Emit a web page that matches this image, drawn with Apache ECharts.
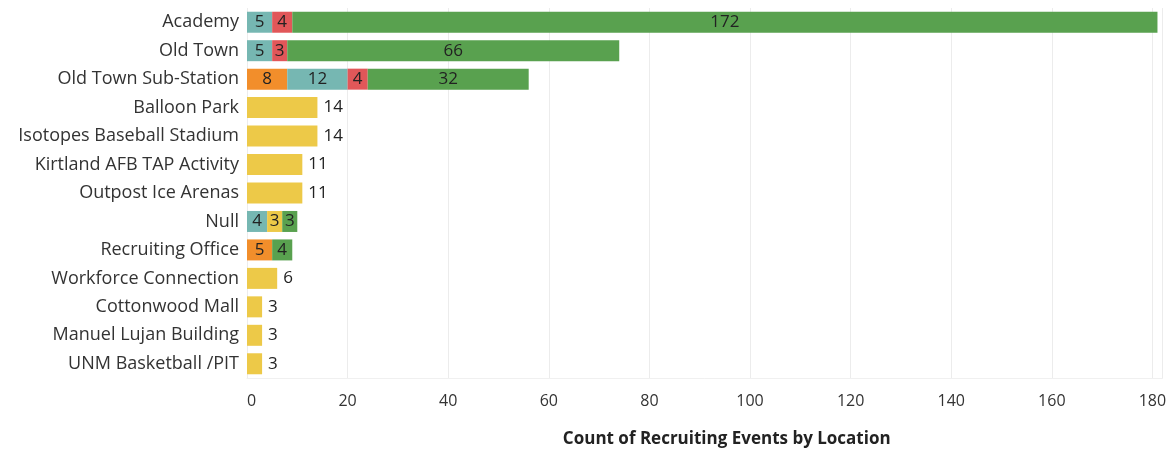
<!DOCTYPE html>
<html>
<head>
<meta charset="utf-8">
<script src="https://cdn.jsdelivr.net/npm/echarts@6/dist/echarts.min.js"></script>
<style>
  html, body { margin: 0; padding: 0; background: #fff; }
  #chart { width: 1175px; height: 451px; }
</style>
</head>
<body>
<div id="chart"></div>
<script>
// Locations, top to bottom
const locations = [
  'Academy', 'Old Town', 'Old Town Sub-Station', 'Balloon Park',
  'Isotopes Baseball Stadium', 'Kirtland AFB TAP Activity', 'Outpost Ice Arenas',
  'Null', 'Recruiting Office', 'Workforce Connection', 'Cottonwood Mall',
  'Manuel Lujan Building', 'UNM Basketball /PIT'
];

// Event counts per segment (null = no events of that kind)
const orangeCounts = [null, null, 8, null, null, null, null, null, 5, null, null, null, null];
const tealCounts   = [5, 5, 12, null, null, null, null, 4, null, null, null, null, null];
const redCounts    = [4, 3, 4, null, null, null, null, null, null, null, null, null, null];
const yellowCounts = [null, null, null, 14, 14, 11, 11, 3, null, 6, 3, 3, 3];
const greenCounts  = [172, 66, 32, null, null, null, null, 3, 4, null, null, null, null];

const xTicks = { min: 0, max: 182, interval: 20 };
const axisTitle = 'Count of Recruiting Events by Location';

const segments = [
  { name: 'orange', color: '#f28e2b', values: orangeCounts },
  { name: 'teal',   color: '#76b7b2', values: tealCounts },
  { name: 'red',    color: '#e15759', values: redCounts },
  { name: 'yellow', color: '#edc948', values: yellowCounts },
  { name: 'green',  color: '#59a14f', values: greenCounts }
];

// A row with a single segment gets its label outside the bar
const segmentCountPerRow = locations.map((_, i) =>
  segments.filter(s => s.values[i] != null).length);

const labelFont = { fontFamily: 'Open Sans', fontSize: 17, color: '#222' };

const series = segments.map(s => ({
  name: s.name,
  type: 'bar',
  stack: 'total',
  barWidth: 21,
  itemStyle: { color: s.color },
  data: s.values.map((v, i) => {
    if (v == null) return null;
    const single = segmentCountPerRow[i] === 1;
    return {
      value: v,
      label: {
        show: true,
        position: single ? 'right' : 'inside',
        distance: 6,
        ...labelFont
      }
    };
  })
}));

const chart = echarts.init(document.getElementById('chart'));
chart.setOption({
  animation: false,
  grid: { left: 247, right: 12.5, top: 8, height: 370, outerBoundsMode: 'none', containLabel: false },
  xAxis: {
    type: 'value',
    min: xTicks.min,
    max: xTicks.max,
    interval: xTicks.interval,
    position: 'bottom',
    name: axisTitle,
    nameLocation: 'middle',
    nameGap: 53,
    nameTextStyle: {
      fontFamily: 'Open Sans', fontWeight: 'bold', fontSize: 17, color: '#222',
      padding: [0, 0, 0, 44]
    },
    axisLine: { show: true, lineStyle: { color: '#f0f0f0', width: 1 } },
    axisTick: { show: false },
    axisLabel: {
      showMaxLabel: false,
      alignMinLabel: 'left',
      margin: 15,
      fontFamily: 'Open Sans', fontSize: 16, color: '#333'
    },
    splitLine: { show: true, lineStyle: { color: '#ececec', width: 1 } }
  },
  yAxis: {
    type: 'category',
    data: locations,
    inverse: true,
    axisLine: { show: false },
    axisTick: { show: false },
    axisLabel: { margin: 8, fontFamily: 'Open Sans', fontSize: 18, color: '#333' }
  },
  series: series
});
</script>
</body>
</html>
